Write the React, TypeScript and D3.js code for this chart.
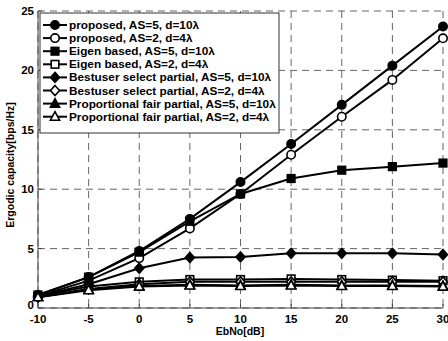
import React from "react";
import * as d3 from "d3";

const xValues = [-10, -5, 0, 5, 10, 15, 20, 25, 30];
const proposedAS5 = [1.1, 2.6, 4.8, 7.5, 10.6, 13.8, 17.1, 20.4, 23.7];
const proposedAS2 = [1.0, 2.3, 4.2, 6.7, 9.6, 12.9, 16.1, 19.2, 22.7];
const eigenAS5 = [1.1, 2.6, 4.7, 7.3, 9.6, 10.9, 11.6, 11.9, 12.2];
const eigenAS2 = [1.0, 1.8, 2.2, 2.4, 2.4, 2.45, 2.4, 2.35, 2.3];
const bestAS5 = [1.0, 2.0, 3.35, 4.25, 4.3, 4.6, 4.6, 4.6, 4.5];
const bestAS2 = [0.9, 1.6, 2.0, 2.2, 2.2, 2.2, 2.2, 2.2, 2.2];
const pfAS5 = [0.95, 1.55, 1.85, 1.95, 1.9, 1.95, 1.9, 1.9, 1.85];
const pfAS2 = [0.9, 1.5, 1.8, 1.9, 1.85, 1.9, 1.85, 1.85, 1.8];

const xTicks = [-10, -5, 0, 5, 10, 15, 20, 25, 30];
const yTicks = [0, 5, 10, 15, 20, 25];

type Marker = "circle" | "square" | "diamond" | "triangle";
const seriesList: { name: string; values: number[]; marker: Marker; filled: boolean }[] = [
  { name: "proposed, AS=5, d=10λ", values: proposedAS5, marker: "circle", filled: true },
  { name: "proposed, AS=2, d=4λ", values: proposedAS2, marker: "circle", filled: false },
  { name: "Eigen based, AS=5, d=10λ", values: eigenAS5, marker: "square", filled: true },
  { name: "Eigen based, AS=2, d=4λ", values: eigenAS2, marker: "square", filled: false },
  { name: "Bestuser select partial, AS=5, d=10λ", values: bestAS5, marker: "diamond", filled: true },
  { name: "Bestuser select partial, AS=2, d=4λ", values: bestAS2, marker: "diamond", filled: false },
  { name: "Proportional fair partial, AS=5, d=10λ", values: pfAS5, marker: "triangle", filled: true },
  { name: "Proportional fair partial, AS=2, d=4λ", values: pfAS2, marker: "triangle", filled: false },
];

const W = 448, H = 341;
const left = 38, right = 443, top = 11, bottom = 308;
const FONT = "Liberation Sans, Arial, sans-serif";

function MarkerShape({ type, x, y, filled }: { type: Marker; x: number; y: number; filled: boolean }) {
  const fill = filled ? "#000" : "#fff";
  const sw = 1.6;
  if (type === "circle") return <circle cx={x} cy={y} r={4.2} fill={fill} stroke="#000" strokeWidth={sw} />;
  if (type === "square") return <rect x={x - 3.8} y={y - 3.8} width={7.6} height={7.6} fill={fill} stroke="#000" strokeWidth={sw} />;
  if (type === "diamond") return <path d={`M${x},${y - 5}L${x + 4.5},${y}L${x},${y + 5}L${x - 4.5},${y}Z`} fill={fill} stroke="#000" strokeWidth={sw} />;
  return <path d={`M${x},${y - 5}L${x + 4.6},${y + 3.5}L${x - 4.6},${y + 3.5}Z`} fill={fill} stroke="#000" strokeWidth={sw} />;
}

export default function App() {
  const xScale = d3.scaleLinear().domain([-10, 30]).range([left, right]);
  const yScale = d3.scaleLinear().domain([0, 25]).range([bottom, top]);
  const line = d3.line<number>().x((_, i) => xScale(xValues[i])).y((d) => yScale(d));

  const legX = 40, legY = 13, legW = 239, legH = 120, legStep = 13.1;

  return (
    <svg width={W} height={H} style={{ position: "absolute", left: 0, top: 0, background: "#fff" }} fontFamily={FONT}>
      <rect x={0} y={0} width={W} height={H} fill="#fff" />
      {/* grid */}
      {xTicks.map((t) => (
        <line key={"gx" + t} x1={xScale(t)} x2={xScale(t)} y1={top} y2={bottom} stroke="#555" strokeWidth={0.9} strokeDasharray="7,5" />
      ))}
      {yTicks.map((t) => (
        <line key={"gy" + t} x1={left} x2={right} y1={yScale(t)} y2={yScale(t)} stroke="#555" strokeWidth={0.9} strokeDasharray="7,5" />
      ))}
      {/* axes */}
      <line x1={left} x2={left} y1={top} y2={bottom} stroke="#444" strokeWidth={1} />
      <line x1={left} x2={right} y1={bottom} y2={bottom} stroke="#444" strokeWidth={1} />
      {/* tick marks */}
      {xTicks.map((t) => (
        <line key={"tx" + t} x1={xScale(t)} x2={xScale(t)} y1={bottom} y2={bottom - 4} stroke="#444" />
      ))}
      {yTicks.map((t) => (
        <line key={"ty" + t} x1={left} x2={left + 4} y1={yScale(t)} y2={yScale(t)} stroke="#444" />
      ))}
      {/* tick labels */}
      {xTicks.map((t) => (
        <text key={"lx" + t} x={xScale(t)} y={bottom + 15} textAnchor="middle" fontSize={11.5} fontWeight="bold">{t}</text>
      ))}
      {yTicks.map((t) => (
        <text key={"ly" + t} x={left - 4} y={t === 0 ? yScale(t) + 1 : yScale(t) + 4} textAnchor="end" fontSize={11.5} fontWeight="bold">{t}</text>
      ))}
      {/* axis labels */}
      <text x={240} y={335} textAnchor="middle" fontSize={10.5} fontWeight="bold">EbNo[dB]</text>
      <text transform={`translate(14,${165}) rotate(-90)`} textAnchor="middle" fontSize={10.5} fontWeight="bold">Ergodic capacity[bps/Hz]</text>
      {/* series */}
      {seriesList.map((s) => (
        <g key={s.name}>
          <path d={line(s.values) || ""} fill="none" stroke="#000" strokeWidth={2} />
          {s.values.map((v, i) => (
            <MarkerShape key={i} type={s.marker} x={xScale(xValues[i])} y={yScale(v)} filled={s.filled} />
          ))}
        </g>
      ))}
      {/* legend */}
      <rect x={legX} y={legY} width={legW} height={legH} fill="#fff" stroke="#333" strokeWidth={1} />
      {seriesList.map((s, i) => {
        const yy = legY + 12 + i * legStep;
        return (
          <g key={"leg" + i}>
            <line x1={legX + 3} x2={legX + 27} y1={yy} y2={yy} stroke="#000" strokeWidth={2} />
            <MarkerShape type={s.marker} x={legX + 15} y={yy} filled={s.filled} />
            <text x={legX + 29} y={yy + 4} fontSize={11.8} fontWeight="bold">{s.name}</text>
          </g>
        );
      })}
    </svg>
  );
}
